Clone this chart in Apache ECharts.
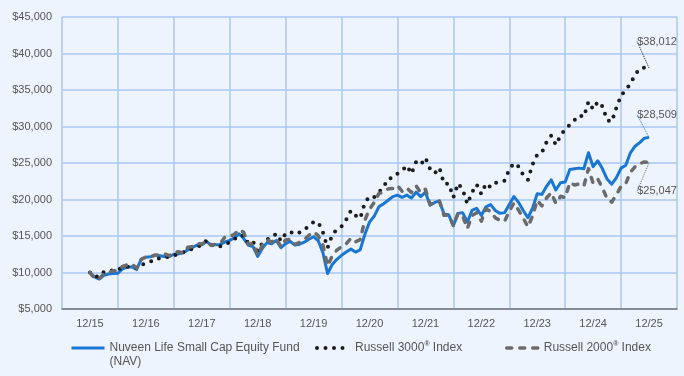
<!DOCTYPE html>
<html>
<head>
<meta charset="utf-8">
<script src="https://cdn.jsdelivr.net/npm/echarts@6/dist/echarts.min.js"></script>
<style>
  html, body { margin: 0; padding: 0; background: #eef4fd; }
  #chart { width: 684px; height: 376px; }
</style>
</head>
<body>
<div id="chart"></div>
<script>
// tick labels, one per December
var yearLabels = ['12/15', '12/16', '12/17', '12/18', '12/19', '12/20', '12/21', '12/22', '12/23', '12/24', '12/25'];

// month-end values 12/15 .. 12/25 (121 points)
var fundValues = [10000,
  9400, 9100, 9600, 9800, 9850, 9900, 10500, 10700, 10800, 10400, 11800, 12100,
  12150, 12350, 12300, 12200, 12150, 12500, 12550, 12700, 13100, 13450, 13750, 13800,
  14250, 13750, 13800, 13850, 14200, 14400, 14750, 15300, 14650, 13750, 13550, 12200,
  13300, 14100, 13950, 14400, 13400, 13950, 14250, 13750, 13880, 14150, 14550, 14900,
  14350, 12700, 9860, 11100, 11800, 12350, 12800, 13200, 12800, 13100, 15200, 16900,
  17700, 19000, 19400, 19900, 20400, 20600, 20300, 20600, 20200, 21000, 20400, 21000,
  19200, 19600, 19800, 18000, 17900, 16400, 18100, 18200, 16900, 18500, 18800, 17800,
  19000, 19300, 18500, 18100, 18200, 19300, 20400, 19600, 18500, 17500, 18800, 20800,
  20700, 21800, 22700, 21300, 22300, 22400, 24100, 24200, 24300, 24200, 26400, 24500,
  25300, 24200, 22800, 22100, 23000, 24300, 24700, 26400, 27300, 27800, 28400, 28509];

var r3000Values = [10000,
  9440, 9430, 10090, 10150, 10330, 10350, 10760, 10800, 10820, 10580, 11050, 11270,
  11480, 11910, 11920, 12040, 12160, 12270, 12600, 12750, 13000, 13250, 13550, 13700,
  14400, 13850, 13550, 13610, 13990, 14090, 14550, 15060, 15090, 13970, 14250, 12930,
  14040, 14530, 14750, 15340, 14340, 15340, 15570, 15250, 15490, 15830, 16430, 16910,
  16890, 15510, 13370, 15130, 15930, 16300, 17230, 18470, 17800, 17410, 19540, 20420,
  20340, 20970, 21720, 22850, 22970, 23540, 23940, 24640, 23530, 25130, 24750, 25720,
  24200, 23600, 24350, 22160, 22140, 20280, 22190, 21370, 19380, 20970, 22060, 20760,
  22190, 21680, 22270, 22490, 22580, 24120, 24980, 24510, 23330, 22700, 24810, 26130,
  26420, 27850, 28740, 27470, 28760, 29650, 30220, 30880, 31530, 31310, 33410, 32370,
  33410, 32770, 30870, 30650, 32580, 34240, 35030, 35840, 37090, 37910, 38060, 38012];

var r2000Values = [10000,
  9150, 9150, 9850, 10000, 10250, 10250, 10850, 11050, 11150, 10600, 11800, 12130,
  12180, 12400, 12420, 12550, 12300, 12750, 12850, 12650, 13450, 13550, 13950, 13900,
  14270, 13710, 13890, 14010, 14870, 14970, 15230, 15880, 15500, 13810, 14030, 12370,
  13760, 14470, 14170, 14650, 13510, 14470, 14560, 13850, 14140, 14510, 15100, 15540,
  15040, 13780, 10900, 12270, 13070, 13530, 13910, 14690, 14200, 14500, 17170, 18660,
  19590, 20810, 21020, 21460, 21500, 21910, 21120, 21590, 20960, 21860, 20940, 21400,
  19340, 19560, 19790, 17830, 17870, 16400, 18110, 17730, 16030, 17790, 18200, 17020,
  18690, 18370, 17490, 17170, 17020, 18400, 19520, 18540, 17450, 16260, 17730, 19900,
  19120, 20210, 20930, 19470, 20440, 20250, 22320, 21990, 22140, 21830, 24230, 22220,
  22800, 21570, 20100, 19640, 20680, 21800, 22170, 23740, 24480, 24920, 25150, 25047];

var fontFamily = "'Liberation Sans', Arial, sans-serif";
var textColor = '#555';
var gridColor = '#a9c8f0';

function money(v) {
  return '$' + Math.round(v).toLocaleString('en-US');
}

// month index on x, only the last point carries a label
function toPoints(list) {
  return list.map(function (v, i) {
    if (i === list.length - 1) {
      return { value: [i, v], label: { show: true } };
    }
    return [i, v];
  });
}

function lineSeries(name, values, color, lineStyle, layout, pos) {
  return {
    name: name,
    type: 'line',
    xAxisIndex: 1,
    data: toPoints(values),
    symbol: 'circle',
    symbolSize: 0,
    showSymbol: true,
    showAllSymbol: true,
    silent: true,
    color: color,
    lineStyle: lineStyle,
    label: {
      show: false,
      position: pos,
      fontSize: 11,
      fontFamily: fontFamily,
      color: textColor,
      formatter: function (p) { return money(p.value[1]); }
    },
    labelLine: {
      show: true,
      lineStyle: { color: color, width: 1, type: 'dotted' }
    },
    labelLayout: layout
  };
}

var chart = echarts.init(document.getElementById('chart'));

var supRich = {
  sup: { fontSize: 7, verticalAlign: 'top', color: textColor, fontFamily: fontFamily, fontWeight: 'bold' }
};

function legendBox(name, left, top, width, lineWidth, extra) {
  var box = {
    data: [name],
    left: left,
    top: top,
    padding: 0,
    itemWidth: width,
    itemHeight: 14,
    itemGap: 5,
    selectedMode: false,
    itemStyle: { opacity: 0 },
    lineStyle: { width: lineWidth },
    textStyle: { fontSize: 12, color: textColor, fontFamily: fontFamily, lineHeight: 14, rich: supRich },
    formatter: function (n) { return n.replace('®', '{sup|®}'); }
  };
  if (extra) {
    for (var k in extra) box.textStyle[k] = extra[k];
  }
  return box;
}

var fundName = 'Nuveen Life Small Cap Equity Fund\n(NAV)';
var r3000Name = 'Russell 3000® Index';
var r2000Name = 'Russell 2000® Index';

chart.setOption({
  animation: false,
  backgroundColor: '#eef4fd',
  grid: { left: 62, right: 7, top: 17, bottom: 67 },
  legend: [
    legendBox(fundName, 70, 327, 33, 3, { padding: [14, 0, 0, 0] }),
    legendBox(r3000Name, 315, 341, 28, 4, { padding: [0, 0, 0, 5] }),
    legendBox(r2000Name, 505, 341, 32, 3.5)
  ],
  xAxis: [
    {
      type: 'category',
      data: yearLabels,
      boundaryGap: true,
      axisLine: { show: true, lineStyle: { color: '#777', width: 1.5 } },
      axisTick: { show: false },
      axisLabel: { color: textColor, fontSize: 11, fontFamily: fontFamily, margin: 9 },
      splitLine: { show: true, lineStyle: { color: gridColor, width: 1.5 } }
    },
    {
      type: 'value',
      min: -6,
      max: 126,
      show: false
    }
  ],
  yAxis: {
    type: 'value',
    min: 5000,
    max: 45000,
    interval: 5000,
    axisLine: { show: false },
    axisTick: { show: false },
    axisLabel: {
      color: textColor,
      fontSize: 11,
      fontFamily: fontFamily,
      margin: 10,
      formatter: money
    },
    splitLine: { show: true, lineStyle: { color: gridColor, width: 1.5 } }
  },
  series: [
    lineSeries(fundName, fundValues, '#1976d2',
      { width: 3, color: '#1976d2', join: 'round' },
      { dx: 8, dy: -12 }, 'top'),
    lineSeries(r3000Name, r3000Values, '#1c1c1c',
      { width: 4, color: '#1c1c1c', type: [0, 8.5], cap: 'round', join: 'round' },
      { dx: 8, dy: -16 }, 'top'),
    lineSeries(r2000Name, r2000Values, '#6b6b6b',
      { width: 3.5, color: '#6b6b6b', type: [5, 8], cap: 'round', join: 'round' },
      { dx: 8, dy: 18 }, 'bottom')
  ]
});
</script>
</body>
</html>
